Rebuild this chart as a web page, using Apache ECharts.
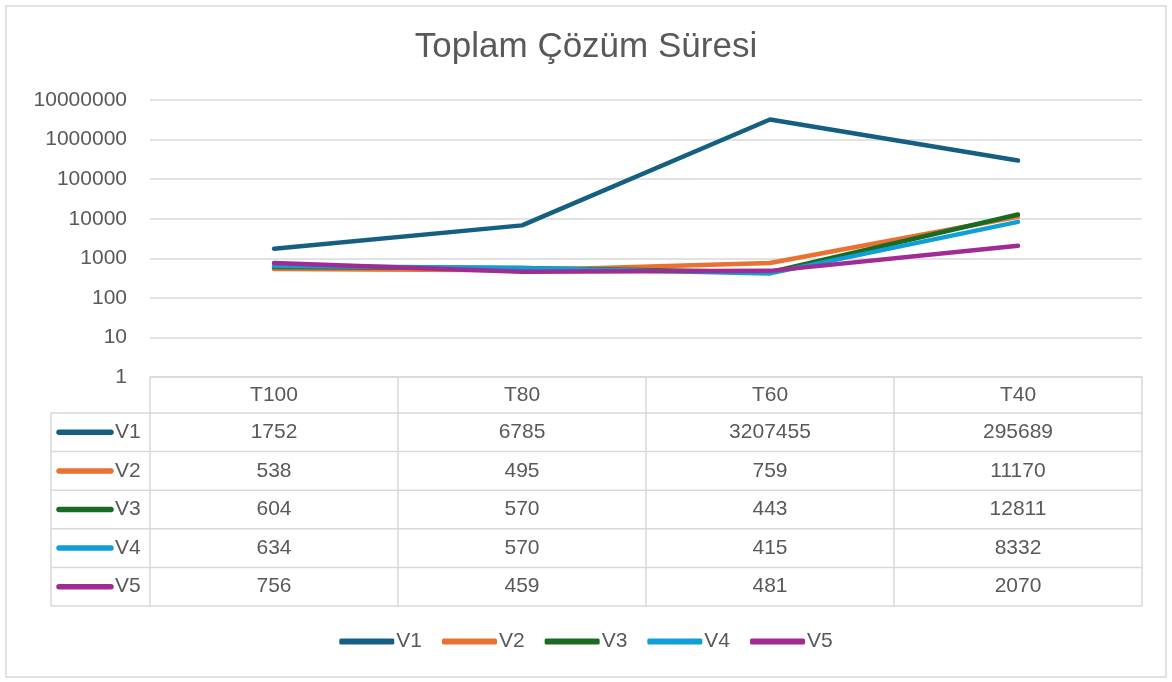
<!DOCTYPE html>
<html>
<head>
<meta charset="utf-8">
<script src="https://cdn.jsdelivr.net/npm/echarts@6/dist/echarts.min.js"></script>
<style>
html, body { margin: 0; background: #fff; }
#main { width: 1172px; height: 682px; }
</style>
</head>
<body>
<div id="main"></div>
<script>
// veriler
var categories = ['T100', 'T80', 'T60', 'T40'];
var seriesNames = ['V1', 'V2', 'V3', 'V4', 'V5'];
var v1 = [1752, 6785, 3207455, 295689];
var v2 = [538, 495, 759, 11170];
var v3 = [604, 570, 443, 12811];
var v4 = [634, 570, 415, 8332];
var v5 = [756, 459, 481, 2070];
var allValues = [v1, v2, v3, v4, v5];
var colors = ['#156082', '#E97132', '#196B24', '#0F9ED5', '#A02B93'];

var FONT = '"Liberation Sans", Arial, sans-serif';
var FS = 21;
var TXT = '#595959';
var GRID_C = '#d9d9d9';

var chart = echarts.init(document.getElementById('main'));

var series = seriesNames.map(function (name, i) {
  return {
    name: name,
    type: 'line',
    data: allValues[i],
    showSymbol: false,
    symbol: 'none',
    lineStyle: { width: 4.5, color: colors[i], cap: 'round', join: 'round' },
    itemStyle: { color: colors[i] },
    emphasis: { disabled: true }
  };
});

var option = {
  animation: false,
  backgroundColor: '#fff',
  textStyle: { fontFamily: FONT },
  title: {
    text: 'Toplam Çözüm Süresi',
    left: 'center',
    top: 25,
    textStyle: { fontSize: 35, fontWeight: 'normal', color: TXT, fontFamily: FONT }
  },
  grid: { left: 150, right: 30, top: 100, bottom: 305 },
  legend: {
    data: seriesNames,
    bottom: 25,
    left: 'center',
    icon: 'roundRect',
    itemWidth: 55,
    itemHeight: 6,
    itemGap: 20,
    textStyle: { fontSize: FS, color: TXT, fontFamily: FONT, padding: [0, 0, 0, -3] }
  },
  xAxis: {
    type: 'category',
    data: categories,
    boundaryGap: true,
    axisLine: { show: true, lineStyle: { color: GRID_C, width: 1.5 } },
    axisTick: { show: true, length: 229, lineStyle: { color: GRID_C, width: 1.5 } },
    axisLabel: { margin: 8, fontSize: FS, color: TXT, fontFamily: FONT }
  },
  yAxis: {
    type: 'log',
    logBase: 10,
    min: 1,
    max: 10000000,
    splitNumber: 7,
    axisLine: { show: false },
    axisTick: { show: false },
    splitLine: { lineStyle: { color: GRID_C, width: 1.5 } },
    axisLabel: {
      margin: 23,
      fontSize: FS,
      color: TXT,
      fontFamily: FONT,
      formatter: function (v) { return String(Math.round(v)); }
    }
  },
  series: series
};

chart.setOption(option);

// veri tablosu
var axisY = chart.convertToPixel({ yAxisIndex: 0 }, 1);
var colW = chart.convertToPixel({ xAxisIndex: 0 }, 1) - chart.convertToPixel({ xAxisIndex: 0 }, 0);
var plotLeft = chart.convertToPixel({ xAxisIndex: 0 }, 0) - colW / 2;
var plotRight = plotLeft + colW * categories.length;
var tableLeft = 51;
var headerH = 36;
var rowH = 38.6;
var graphics = [];

// dış çerçeve
graphics.push({
  type: 'rect', silent: true,
  shape: { x: 6, y: 6, width: 1160, height: 671 },
  style: { fill: 'none', stroke: GRID_C, lineWidth: 1.5 }
});

var rowTop0 = axisY + headerH;
graphics.push({
  type: 'line', silent: true,
  shape: { x1: tableLeft, y1: rowTop0, x2: tableLeft, y2: rowTop0 + rowH * seriesNames.length },
  style: { stroke: GRID_C, lineWidth: 1.5 }
});
for (var r = 0; r <= seriesNames.length; r++) {
  var yy = rowTop0 + rowH * r;
  graphics.push({
    type: 'line', silent: true,
    shape: { x1: tableLeft, y1: yy, x2: plotRight, y2: yy },
    style: { stroke: GRID_C, lineWidth: 1.5 }
  });
}
seriesNames.forEach(function (name, i) {
  var cy = rowTop0 + rowH * i + rowH / 2;
  graphics.push({
    type: 'line', silent: true,
    shape: { x1: 59, y1: cy, x2: 111, y2: cy },
    style: { stroke: colors[i], lineWidth: 5.5, lineCap: 'round' }
  });
  graphics.push({
    type: 'text', silent: true, x: 115, y: cy,
    style: { text: name, font: FS + 'px ' + FONT, fill: TXT, align: 'left', verticalAlign: 'middle' }
  });
  allValues[i].forEach(function (val, j) {
    var cx = chart.convertToPixel({ xAxisIndex: 0 }, j);
    graphics.push({
      type: 'text', silent: true, x: cx, y: cy,
      style: { text: String(val), font: FS + 'px ' + FONT, fill: TXT, align: 'center', verticalAlign: 'middle' }
    });
  });
});

chart.setOption({ graphic: graphics });
</script>
</body>
</html>
